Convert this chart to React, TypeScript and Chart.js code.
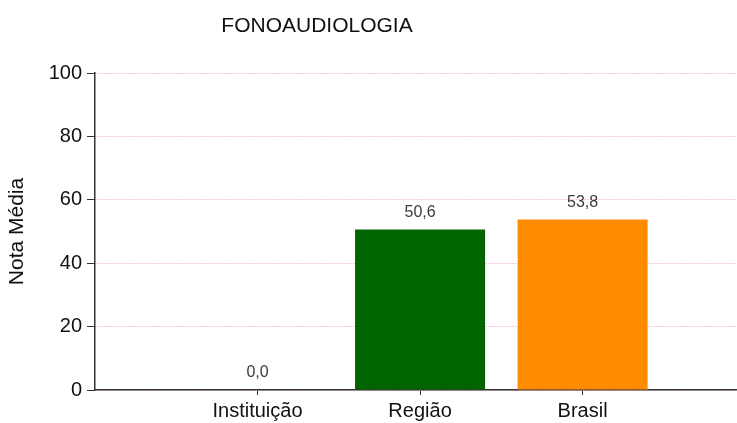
import React, { useEffect, useRef } from "react";
import { Chart, registerables } from "chart.js";

Chart.register(...registerables);

const chartTitle = "FONOAUDIOLOGIA";
const yAxisTitle = "Nota Média";
const categories = ["Instituição", "Região", "Brasil"];
const values = [0.0, 50.6, 53.8];
const barColors = ["#1f4e9c", "#006400", "#ff8c00"];
const yTicks = [0, 20, 40, 60, 80, 100];

const FONT = "'Liberation Sans', Arial, Helvetica, sans-serif";

const fmt = (v: number) => v.toFixed(1).replace(".", ",");

const titlePlugin = {
  id: "customTitle",
  afterDraw(chart: any) {
    const ctx = chart.ctx;
    ctx.save();
    ctx.font = `21px ${FONT}`;
    ctx.fillStyle = "#111";
    ctx.textAlign = "center";
    ctx.textBaseline = "middle";
    ctx.fillText(chartTitle, 317, 26);
    ctx.restore();
  },
};

const valueLabelPlugin = {
  id: "valueLabels",
  afterDatasetsDraw(chart: any) {
    const ctx = chart.ctx;
    const meta = chart.getDatasetMeta(0);
    ctx.save();
    ctx.font = `16px ${FONT}`;
    ctx.fillStyle = "#3a3a3a";
    ctx.textAlign = "center";
    ctx.textBaseline = "middle";
    meta.data.forEach((bar: any, i: number) => {
      ctx.fillText(fmt(values[i]), bar.x, bar.y - 17);
    });
    ctx.restore();
  },
};

export default function App() {
  const ref = useRef<HTMLCanvasElement | null>(null);

  useEffect(() => {
    if (!ref.current) return;
    const chart = new Chart(ref.current, {
      type: "bar",
      data: {
        datasets: [
          {
            data: values.map((v, i) => ({ x: i + 1, y: v })),
            backgroundColor: barColors,
            borderWidth: 0,
            barPercentage: 0.8,
            categoryPercentage: 1.0,
          },
        ],
      },
      options: {
        animation: false,
        responsive: true,
        maintainAspectRatio: false,
        layout: { padding: { top: 73, left: 0, right: 0, bottom: 0 } },
        plugins: {
          legend: { display: false },
          title: { display: false },
          tooltip: { enabled: false },
        },
        scales: {
          x: {
            type: "linear",
            min: 0,
            max: 3.95,
            offset: false,
            afterBuildTicks: (scale: any) => {
              scale.ticks = categories.map((_, i) => ({ value: i + 1 }));
            },
            afterFit: (scale: any) => {
              scale.height = 33;
            },
            ticks: {
              autoSkip: false,
              maxRotation: 0,
              padding: 4,
              color: "#111",
              font: { family: FONT, size: 20 },
              callback: (v: any) => categories[Number(v) - 1] ?? "",
            },
            grid: {
              offset: false,
              drawOnChartArea: false,
              drawTicks: true,
              tickLength: 5,
              tickColor: "#333",
              tickWidth: 1,
            },
            border: { display: true, color: "#333", width: 1.5 },
          },
          y: {
            min: 0,
            max: 100,
            afterBuildTicks: (scale: any) => {
              scale.ticks = yTicks.map((v) => ({ value: v }));
            },
            afterFit: (scale: any) => {
              scale.width = 95;
            },
            ticks: {
              padding: 5,
              color: "#111",
              font: { family: FONT, size: 20 },
            },
            title: {
              display: true,
              text: yAxisTitle,
              color: "#111",
              font: { family: FONT, size: 21 },
              padding: { top: 5, bottom: 0 },
            },
            grid: {
              color: "#f291b4",
              lineWidth: 1,
              drawTicks: true,
              tickLength: 8,
              tickColor: "#333",
              tickWidth: 1,
              tickBorderDash: [],
            },
            border: { display: true, color: "#333", width: 1.5, dash: [1, 2] },
          },
        },
      },
      plugins: [titlePlugin, valueLabelPlugin],
    } as any);
    return () => chart.destroy();
  }, []);

  return (
    <div
      style={{
        position: "fixed",
        left: 0,
        top: 0,
        width: 737,
        height: 423,
        background: "#fff",
      }}
    >
      <canvas ref={ref} />
    </div>
  );
}
